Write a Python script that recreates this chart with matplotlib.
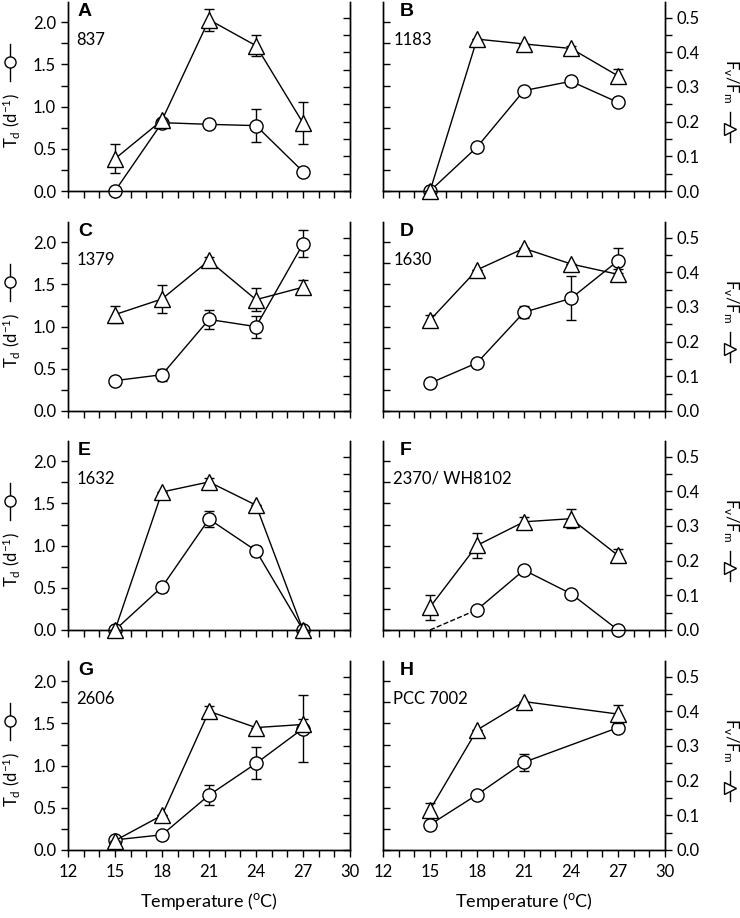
import numpy as np
import matplotlib
matplotlib.use("Agg")
from matplotlib import pyplot as plt
from matplotlib.ticker import MultipleLocator, FormatStrFormatter

plt.rcParams['font.family'] = ['Lato', 'DejaVu Sans']
plt.rcParams['mathtext.fontset'] = 'custom'
plt.rcParams['mathtext.rm'] = 'Lato'
plt.rcParams['mathtext.default'] = 'regular'

temps = [15, 18, 21, 24, 27]
nan = np.nan

letters = ['A', 'B', 'C', 'D', 'E', 'F', 'G', 'H']
strains = ['837', '1183', '1379', '1630', '1632', '2370/ WH8102', '2606', 'PCC 7002']

# growth rate (circles, left scale)
td_A = [0.0, 0.81, 0.79, 0.775, 0.23]
td_B = [0.0, 0.52, 1.19, 1.30, 1.05]
td_C = [0.36, 0.43, 1.085, 1.0, 1.98]
td_D = [0.33, 0.57, 1.17, 1.335, 1.78]
td_E = [0.0, 0.51, 1.315, 0.94, 0.0]
td_F = [nan, 0.24, 0.71, 0.43, 0.0]
td_G = [0.12, 0.18, 0.65, 1.026, 1.44]
td_H = [0.30, 0.655, 1.04, nan, 1.45]

td_err_A = [0, 0, 0, 0.2, 0]
td_err_B = [0, 0, 0, 0.05, 0]
td_err_C = [0, 0.07, 0.11, 0.13, 0.16]
td_err_D = [0, 0, 0.07, 0.26, 0.15]
td_err_E = [0, 0.06, 0.09, 0.06, 0]
td_err_F = [0, 0, 0.05, 0, 0]
td_err_G = [0, 0, 0.12, 0.19, 0.40]
td_err_H = [0, 0, 0.1, 0, 0]

# dashed extrapolation in panel F
dash_F_t = [15, 18]
dash_F_td = [0.0, 0.24]

# Fv/Fm (triangles, right scale)
fv_A = [0.093, 0.204, 0.494, 0.419, 0.196]
fv_B = [0.0, 0.438, 0.424, 0.411, 0.332]
fv_C = [0.278, 0.323, 0.434, 0.321, 0.357]
fv_D = [0.262, 0.407, 0.469, 0.424, 0.394]
fv_E = [0.0, 0.398, 0.427, 0.36, 0.0]
fv_F = [0.066, 0.244, 0.312, 0.321, 0.215]
fv_G = [0.027, 0.10, 0.40, 0.353, 0.362]
fv_H = [0.116, 0.346, 0.428, nan, 0.392]

fv_err_A = [0.042, 0, 0.032, 0.031, 0.06]
fv_err_B = [0, 0, 0, 0.008, 0.02]
fv_err_C = [0.025, 0.04, 0.01, 0.033, 0.02]
fv_err_D = [0.015, 0, 0, 0, 0.015]
fv_err_E = [0, 0, 0.01, 0, 0]
fv_err_F = [0.036, 0.036, 0.015, 0.028, 0.018]
fv_err_G = [0, 0, 0.015, 0, 0.015]
fv_err_H = [0.02, 0, 0, 0, 0.025]

td_all = [td_A, td_B, td_C, td_D, td_E, td_F, td_G, td_H]
td_err_all = [td_err_A, td_err_B, td_err_C, td_err_D, td_err_E, td_err_F, td_err_G, td_err_H]
fv_all = [fv_A, fv_B, fv_C, fv_D, fv_E, fv_F, fv_G, fv_H]
fv_err_all = [fv_err_A, fv_err_B, fv_err_C, fv_err_D, fv_err_E, fv_err_F, fv_err_G, fv_err_H]

W, H = 740, 918
fig = plt.figure(figsize=(W / 100, H / 100), dpi=100)

col_x = [68, 383]
ax_w = 282
row_top = [2, 222, 441, 661]
ax_h = 189

TD_MAX = 2.24
FV_MAX = 0.545
lw = 1.0


def series(ax, vals, errs, marker, ms):
    t = np.array(temps, dtype=float)
    v = np.array(vals, dtype=float)
    e = np.array(errs, dtype=float)
    m = ~np.isnan(v)
    ax.errorbar(t[m], v[m], yerr=e[m], fmt='-', color='black', lw=lw,
                marker=marker, ms=ms, mfc='white', mec='black', mew=lw,
                elinewidth=lw, capsize=3.5, capthick=lw, clip_on=False, zorder=3)


for i in range(8):
    r, c = divmod(i, 2)
    x0 = col_x[c]
    y0 = row_top[r] + ax_h
    ax = fig.add_axes([x0 / W, 1 - y0 / H, ax_w / W, ax_h / H])
    ax2 = ax.twinx()

    for a in (ax, ax2):
        a.spines['top'].set_visible(False)
        for s in a.spines.values():
            s.set_linewidth(1.0)

    ax.set_xlim(12, 30)
    ax.set_ylim(0, TD_MAX)
    ax2.set_ylim(0, FV_MAX)
    ax.xaxis.set_major_locator(MultipleLocator(3))
    ax.xaxis.set_minor_locator(MultipleLocator(1))
    ax.tick_params(axis='x', which='both', direction='out', length=5, width=1.0, labelsize=12, pad=5)
    if r < 3:
        ax.tick_params(axis='x', labelbottom=False)

    ax.yaxis.set_major_locator(MultipleLocator(0.5))
    ax.yaxis.set_minor_locator(MultipleLocator(0.25))
    ax2.yaxis.set_major_locator(MultipleLocator(0.1))
    ax2.yaxis.set_minor_locator(MultipleLocator(0.05))
    if c == 0:
        ax.tick_params(axis='y', which='both', direction='out', length=5, width=1.0, labelsize=12)
        ax2.tick_params(axis='y', which='both', direction='in', length=5, width=1.0, labelright=False)
    else:
        ax.tick_params(axis='y', which='both', direction='in', length=5, width=1.0, labelleft=False)
        ax2.tick_params(axis='y', which='both', direction='out', length=5, width=1.0, labelsize=12)
    ax.yaxis.set_major_formatter(FormatStrFormatter('%.1f'))
    ax2.yaxis.set_major_formatter(FormatStrFormatter('%.1f'))

    series(ax, td_all[i], td_err_all[i], 'o', 9.5)
    series(ax2, fv_all[i], fv_err_all[i], '^', 11)
    if letters[i] == 'F':
        ax.plot(dash_F_t, dash_F_td, '--', color='black', lw=lw, zorder=2)

    lx = 0.035 if c == 0 else 0.06
    ax2.text(lx, 0.995, letters[i], transform=ax.transAxes, fontsize=14,
             fontweight='bold', family='Liberation Sans', va='top', ha='left')
    sx = 0.03 if c == 0 else 0.036
    ax2.text(sx, 0.80, strains[i], transform=ax.transAxes, fontsize=12,
             va='center', ha='left')

    if c == 0:
        ax.text(-0.2, 0.37, 'T$_d$ (d$^{-1}$)', transform=ax.transAxes,
                rotation=90, ha='center', va='center', fontsize=12)
        ax.plot([-0.205, -0.205], [0.58, 0.78], color='black', lw=lw,
                transform=ax.transAxes, clip_on=False)
        ax.plot([-0.205], [0.68], 'o', ms=8, mfc='white', mec='black', mew=lw,
                transform=ax.transAxes, clip_on=False)
    else:
        ax2.text(1.235, 0.58, 'F$_v$/F$_m$', transform=ax.transAxes,
                 rotation=270, ha='center', va='center', fontsize=12)
        ax2.plot([1.23, 1.23], [0.26, 0.42], color='black', lw=lw,
                 transform=ax.transAxes, clip_on=False)
        ax2.plot([1.23], [0.33], '>', ms=9, mfc='white', mec='black', mew=lw,
                 transform=ax.transAxes, clip_on=False)

    if r == 3:
        ax.set_xlabel('Temperature ($^{o}$C)', fontsize=13, labelpad=8)

fig.savefig('out.png', dpi=100)
